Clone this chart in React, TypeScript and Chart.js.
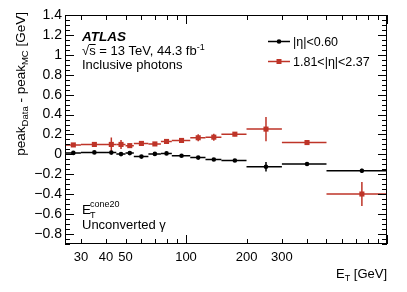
import React, { useEffect, useRef } from 'react';
import { Chart, registerables } from 'chart.js';

Chart.register(...registerables);

// ---- data ----
const binLow = [25, 30, 40, 45, 50, 55, 65, 75, 85, 105, 125, 150, 200, 300, 500];
const binHigh = [30, 40, 45, 50, 55, 65, 75, 85, 105, 125, 150, 200, 300, 500, 1000];
const centralVals = [0.015, 0.02, 0.018, 0.003, 0.013, -0.022, 0.005, 0.01, -0.014, -0.032, -0.052, -0.062, -0.124, -0.097, -0.164];
const centralErr = [0.008, 0.008, 0.012, 0.012, 0.008, 0.008, 0.008, 0.008, 0.008, 0.01, 0.01, 0.008, 0.047, 0.01, 0.02];
const forwardVals = [0.095, 0.1, 0.1, 0.1, 0.088, 0.11, 0.105, 0.13, 0.14, 0.167, 0.173, 0.203, 0.254, 0.119, -0.398];
const forwardErr = [0.01, 0.015, 0.07, 0.045, 0.02, 0.015, 0.015, 0.015, 0.02, 0.035, 0.035, 0.02, 0.122, 0.02, 0.12];
const seriesNames = ['|η|<0.60', '1.81<|η|<2.37'];
const xTickLabels = [30, 40, 50, 100, 200, 300];
const xMinorTicks = [30, 40, 50, 60, 70, 80, 90, 200, 300, 400, 500, 600, 700, 800, 900];
const xMajorTicks = [100, 1000];
const yTickLabels = [-0.8, -0.6, -0.4, -0.2, 0, 0.2, 0.4, 0.6, 0.8, 1, 1.2, 1.4];

const FONT = "'Liberation Sans', Arial, Helvetica, sans-serif";
const BLACK = '#000000';
const RED = 'rgb(190,52,40)';

function mkPoints(vals: number[], errs: number[]) {
  return vals.map((v, i) => ({
    x: (binLow[i] + binHigh[i]) / 2,
    y: v,
    lo: binLow[i],
    hi: binHigh[i],
    e: errs[i],
  }));
}

function text(ctx: CanvasRenderingContext2D, s: string, x: number, y: number, size: number, style = '') {
  ctx.font = `${style} ${size}px ${FONT}`.trim();
  ctx.fillText(s, x, y);
  return ctx.measureText(s).width;
}

const atlasPlugin = {
  id: 'atlasDecor',
  beforeDatasetsDraw(chart: any) {
    const { ctx, scales } = chart;
    const x = scales.x, y = scales.y;
    ctx.save();
    chart.data.datasets.forEach((ds: any) => {
      ctx.strokeStyle = ds.borderColor;
      ctx.lineWidth = 1.5;
      ds.data.forEach((p: any) => {
        const px = x.getPixelForValue(p.x);
        const py = y.getPixelForValue(p.y);
        ctx.beginPath();
        ctx.moveTo(x.getPixelForValue(p.lo), py);
        ctx.lineTo(x.getPixelForValue(p.hi), py);
        ctx.moveTo(px, y.getPixelForValue(p.y - p.e));
        ctx.lineTo(px, y.getPixelForValue(p.y + p.e));
        ctx.stroke();
      });
    });
    ctx.restore();
  },
  afterDraw(chart: any) {
    const { ctx, chartArea: a, scales } = chart;
    const x = scales.x, y = scales.y;
    ctx.save();
    ctx.strokeStyle = '#000';
    ctx.lineWidth = 1;
    ctx.strokeRect(a.left + 0.5, a.top + 0.5, a.right - a.left - 1, a.bottom - a.top - 1);
    ctx.beginPath();
    const xt = (v: number, len: number) => {
      const px = Math.round(x.getPixelForValue(v)) + 0.5;
      ctx.moveTo(px, a.bottom);
      ctx.lineTo(px, a.bottom - len);
      ctx.moveTo(px, a.top);
      ctx.lineTo(px, a.top + len);
    };
    xMinorTicks.forEach((v) => xt(v, 5));
    xMajorTicks.forEach((v) => xt(v, 9));
    const yt = (v: number, len: number) => {
      const py = Math.round(y.getPixelForValue(v)) + 0.5;
      ctx.moveTo(a.left, py);
      ctx.lineTo(a.left + len, py);
      ctx.moveTo(a.right, py);
      ctx.lineTo(a.right - len, py);
    };
    for (let k = -18; k <= 28; k++) {
      const v = k * 0.05;
      const major = k % 4 === 0;
      yt(v, major ? 9 : 5);
    }
    ctx.stroke();

    ctx.fillStyle = '#000';
    ctx.textBaseline = 'alphabetic';
    ctx.textAlign = 'left';

    // ATLAS label block
    text(ctx, 'ATLAS', 82, 41, 13.5, 'italic bold');
    let cx = 82;
    cx += text(ctx, '√', cx, 55, 13);
    const sw = text(ctx, 's', cx, 55, 13);
    ctx.beginPath();
    ctx.moveTo(cx, 44.5);
    ctx.lineTo(cx + sw, 44.5);
    ctx.stroke();
    cx += sw;
    cx += text(ctx, ' = 13 TeV, 44.3 fb', cx, 55, 13);
    text(ctx, '-1', cx, 50, 9);
    text(ctx, 'Inclusive photons', 82, 69, 13);

    // E_T^cone20 / Unconverted
    const ew = text(ctx, 'E', 82, 214, 13.5);
    text(ctx, 'T', 82 + ew - 1, 218, 9);
    text(ctx, 'cone20', 82 + ew - 1, 207, 9);
    text(ctx, 'Unconverted γ', 82, 229, 13);

    // legend
    const legend = [
      { name: seriesNames[0], color: BLACK, ly: 41.5, ty: 46, shape: 'circle' },
      { name: seriesNames[1], color: RED, ly: 61.5, ty: 66, shape: 'rect' },
    ];
    legend.forEach((l) => {
      ctx.strokeStyle = l.color;
      ctx.fillStyle = l.color;
      ctx.lineWidth = 1.5;
      ctx.beginPath();
      ctx.moveTo(268, l.ly);
      ctx.lineTo(290, l.ly);
      ctx.stroke();
      ctx.beginPath();
      if (l.shape === 'circle') ctx.arc(279, l.ly, 2.3, 0, Math.PI * 2);
      else ctx.rect(276.5, l.ly - 2.5, 5, 5);
      ctx.fill();
      ctx.fillStyle = '#000';
      text(ctx, l.name, 293, l.ty, 12.5);
    });

    // x title
    ctx.fillStyle = '#000';
    ctx.font = `13px ${FONT}`;
    const wE = ctx.measureText('E').width;
    const wG = ctx.measureText(' [GeV]').width;
    ctx.font = `9px ${FONT}`;
    const wT = ctx.measureText('T').width;
    const xEnd = a.right;
    let tx = xEnd - wE - wT - wG;
    tx += text(ctx, 'E', tx, 278, 13);
    tx += text(ctx, 'T', tx, 281, 9);
    text(ctx, ' [GeV]', tx, 278, 13);

    // y title rotated
    const segs = [
      { t: 'peak', s: 13.5, d: 0 },
      { t: 'Data', s: 9.5, d: 3 },
      { t: ' - peak', s: 13.5, d: 0 },
      { t: 'MC', s: 9.5, d: 3 },
      { t: ' [GeV]', s: 13.5, d: 0 },
    ];
    let total = 0;
    segs.forEach((g) => {
      ctx.font = `${g.s}px ${FONT}`;
      total += ctx.measureText(g.t).width;
    });
    ctx.translate(25, 12 + total);
    ctx.rotate(-Math.PI / 2);
    let ox = 0;
    segs.forEach((g) => {
      ox += text(ctx, g.t, ox, g.d, g.s);
    });
    ctx.restore();
  },
};

export default function App() {
  const ref = useRef<HTMLCanvasElement>(null);
  useEffect(() => {
    if (!ref.current) return;
    const chart = new Chart(ref.current, {
      type: 'scatter',
      data: {
        datasets: [
          {
            label: seriesNames[0],
            data: mkPoints(centralVals, centralErr),
            borderColor: BLACK,
            backgroundColor: BLACK,
            pointStyle: 'circle',
            pointRadius: 2.3,
            pointBorderWidth: 0,
            showLine: false,
          },
          {
            label: seriesNames[1],
            data: mkPoints(forwardVals, forwardErr),
            borderColor: RED,
            backgroundColor: RED,
            pointStyle: 'rect',
            pointRadius: 3.6,
            pointBorderWidth: 0,
            showLine: false,
          },
        ],
      },
      options: {
        animation: false,
        responsive: false,
        devicePixelRatio: 1,
        layout: { padding: { top: 15, right: 20, left: 0, bottom: 0 } },
        plugins: { legend: { display: false }, tooltip: { enabled: false } },
        scales: {
          x: {
            type: 'logarithmic',
            min: 25,
            max: 1000,
            grid: { display: false, drawTicks: false },
            border: { display: false },
            afterBuildTicks: (s: any) => {
              s.ticks = xTickLabels.map((v) => ({ value: v }));
            },
            afterFit: (s: any) => {
              s.height = 48;
            },
            ticks: {
              autoSkip: false,
              maxRotation: 0,
              padding: 6,
              color: '#000',
              font: { family: FONT, size: 13 },
              callback: (v: any) => String(v),
            },
          },
          y: {
            type: 'linear',
            min: -0.9,
            max: 1.4,
            grid: { display: false, drawTicks: false },
            border: { display: false },
            afterBuildTicks: (s: any) => {
              s.ticks = yTickLabels.map((v) => ({ value: v }));
            },
            afterFit: (s: any) => {
              s.width = 65;
            },
            ticks: {
              autoSkip: false,
              padding: 3,
              color: '#000',
              font: { family: FONT, size: 14 },
              callback: (v: any) => String(Number(Number(v).toFixed(1))).replace('-', '−'),
            },
          },
        },
      },
      plugins: [atlasPlugin],
    } as any);
    return () => chart.destroy();
  }, []);
  return (
    <div style={{ position: 'fixed', left: 0, top: 0, width: 407, height: 292, background: '#fff' }}>
      <canvas ref={ref} width={407} height={292} style={{ display: 'block' }} />
    </div>
  );
}
